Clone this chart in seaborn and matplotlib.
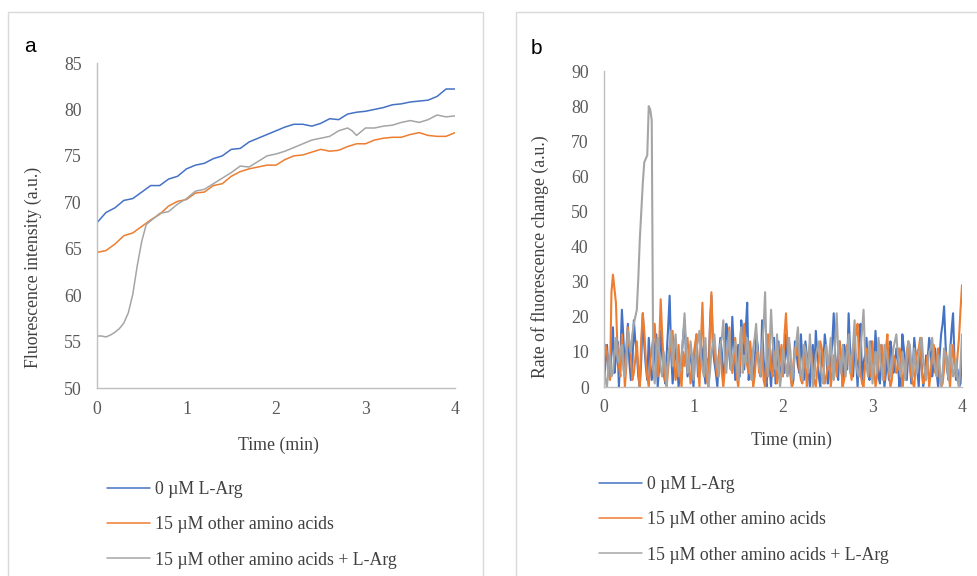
import matplotlib
matplotlib.use("Agg")
import matplotlib.pyplot as plt
import matplotlib.patches as mpatches
import seaborn as sns
import pandas as pd

# ---------------- data ----------------
labels = ["0 \u00b5M L-Arg", "15 \u00b5M other amino acids", "15 \u00b5M other amino acids + L-Arg"]
colors = ["#4472C4", "#ED7D31", "#A5A5A5"]

# panel a: fluorescence intensity
time_a = [round(0.1 * i, 1) for i in range(41)]
blue_a = [67.8, 68.9, 69.4, 70.2, 70.4, 71.1, 71.8, 71.8, 72.5, 72.8, 73.6, 74.0, 74.2, 74.7,
          75.0, 75.7, 75.8, 76.5, 76.9, 77.3, 77.7, 78.1, 78.4, 78.4, 78.2, 78.5, 79.0, 78.9,
          79.5, 79.7, 79.8, 80.0, 80.2, 80.5, 80.6, 80.8, 80.9, 81.0, 81.4, 82.2, 82.2]
orange_a = [64.6, 64.8, 65.5, 66.4, 66.7, 67.4, 68.1, 68.7, 69.6, 70.1, 70.3, 71.0, 71.1, 71.8,
            72.0, 72.8, 73.3, 73.6, 73.8, 74.0, 74.0, 74.6, 75.0, 75.1, 75.4, 75.7, 75.5, 75.6,
            76.0, 76.3, 76.3, 76.7, 76.9, 77.0, 77.0, 77.3, 77.5, 77.2, 77.1, 77.1, 77.5]
time_gray_a = [0, 0.05, 0.1, 0.15, 0.2, 0.25, 0.3, 0.35, 0.4, 0.45, 0.5, 0.55, 0.6,
               0.7, 0.8, 0.9, 1.0, 1.1, 1.2, 1.3, 1.4, 1.5, 1.6, 1.7, 1.8, 1.9, 2.0, 2.1,
               2.2, 2.3, 2.4, 2.5, 2.6, 2.7, 2.8, 2.85, 2.9, 3.0, 3.1, 3.2, 3.3, 3.4, 3.5,
               3.6, 3.7, 3.8, 3.9, 4.0]
gray_a = [55.6, 55.6, 55.5, 55.7, 56.0, 56.4, 57.0, 58.1, 60.1, 63.2, 65.8, 67.6, 68.0,
          68.8, 69.0, 69.8, 70.4, 71.2, 71.4, 72.0, 72.6, 73.2, 73.9, 73.8, 74.4, 75.0, 75.2,
          75.5, 75.9, 76.3, 76.7, 76.9, 77.1, 77.7, 78.0, 77.7, 77.2, 78.0, 78.0, 78.2, 78.3,
          78.6, 78.8, 78.6, 78.9, 79.4, 79.2, 79.3]

# panel b: rate of fluorescence change (sampled every 1 s)
time_b = [i / 60 for i in range(241)]
blue_b = [0, 7, 12, 5, 3, 10, 17, 4, 8, 13, 0, 9, 22, 14, 5, 11, 18, 7, 2, 6,
          19, 13, 10, 3, 0, 8, 21, 12, 6, 2, 14, 7, 2, 5, 11, 15, 0, 6, 16, 9,
          4, 1, 9, 17, 26, 10, 1, 5, 13, 7, 0, 4, 8, 14, 19, 9, 3, 6, 12, 5, 0,
          9, 15, 3, 6, 12, 10, 5, 1, 8, 4, 17, 26, 11, 7, 4, 0, 9, 14, 10, 3,
          6, 18, 14, 9, 5, 20, 11, 2, 7, 12, 3, 19, 13, 5, 16, 24, 2, 8, 10, 1,
          6, 15, 12, 6, 3, 19, 8, 3, 0, 11, 6, 0, 10, 14, 1, 7, 13, 2, 5, 10,
          4, 15, 9, 4, 6, 0, 2, 13, 10, 6, 4, 15, 8, 2, 13, 9, 5, 0, 7, 12,
          3, 16, 9, 3, 0, 10, 6, 15, 11, 1, 4, 8, 12, 21, 9, 5, 2, 13, 7, 0,
          12, 9, 5, 21, 10, 4, 3, 11, 8, 0, 12, 18, 2, 7, 9, 14, 4, 2, 13, 10,
          5, 16, 9, 3, 1, 12, 7, 0, 4, 9, 2, 13, 10, 4, 6, 11, 8, 0, 3, 15,
          11, 6, 2, 10, 7, 1, 5, 14, 9, 5, 0, 12, 6, 0, 3, 9, 8, 14, 11, 3,
          6, 11, 4, 0, 9, 15, 18, 23, 12, 5, 2, 10, 16, 21, 7, 2, 5, 0, 1, 10]
orange_b = [8, 12, 10, 4, 2, 27, 32, 28, 24, 11, 6, 3, 15, 9, 0, 6, 17, 12, 9, 2,
            4, 8, 13, 5, 0, 14, 21, 16, 8, 3, 0, 7, 11, 14, 18, 9, 3, 12, 25, 15,
            7, 2, 0, 5, 10, 13, 16, 8, 2, 6, 12, 4, 0, 10, 6, 11, 14, 7, 1, 4, 9,
            12, 15, 6, 0, 13, 24, 9, 5, 2, 0, 16, 27, 14, 10, 6, 3, 9, 12, 4, 0,
            5, 8, 11, 17, 9, 4, 7, 14, 3, 0, 6, 11, 13, 18, 10, 6, 4, 13, 8, 0,
            3, 9, 10, 4, 6, 12, 2, 0, 9, 15, 11, 5, 3, 10, 7, 1, 4, 8, 12, 3,
            15, 21, 12, 6, 3, 0, 7, 11, 9, 14, 5, 2, 1, 9, 6, 0, 8, 12, 10, 4,
            2, 0, 5, 8, 13, 11, 6, 1, 3, 6, 9, 0, 4, 9, 7, 3, 10, 13, 6, 0,
            2, 7, 12, 10, 5, 2, 9, 14, 15, 18, 8, 4, 1, 0, 6, 11, 9, 5, 3, 13,
            6, 0, 3, 8, 10, 12, 7, 2, 11, 15, 4, 0, 2, 9, 8, 4, 5, 11, 9, 0,
            3, 7, 10, 13, 6, 3, 1, 0, 7, 10, 11, 14, 5, 1, 2, 6, 9, 0, 4, 9,
            12, 4, 7, 11, 3, 0, 1, 5, 10, 8, 4, 0, 8, 12, 6, 3, 9, 14, 22, 29]
gray_b = [5, 2, 0, 6, 9, 3, 4, 10, 14, 8, 7, 11, 12, 5, 3, 9, 16, 13, 10, 15,
          18, 20, 22, 31, 42, 50, 58, 64, 65, 66, 80, 79, 76, 5, 1, 8, 14, 10, 5, 3,
          10, 7, 0, 9, 12, 16, 6, 11, 15, 8, 3, 5, 9, 14, 21, 12, 4, 7, 13, 9, 2,
          7, 11, 13, 16, 9, 5, 3, 14, 6, 0, 4, 10, 12, 15, 9, 6, 3, 12, 14, 19,
          8, 4, 11, 16, 5, 8, 10, 13, 6, 2, 12, 17, 4, 9, 7, 14, 10, 4, 2, 11,
          14, 18, 9, 6, 3, 12, 17, 27, 8, 3, 11, 22, 13, 8, 5, 15, 7, 0, 4, 11,
          8, 6, 3, 14, 10, 2, 5, 10, 13, 17, 9, 4, 2, 12, 11, 7, 4, 15, 8, 0,
          5, 9, 11, 13, 7, 3, 1, 10, 12, 6, 9, 14, 5, 2, 13, 21, 10, 8, 4, 12,
          7, 3, 10, 15, 4, 9, 12, 19, 7, 4, 3, 11, 16, 22, 10, 6, 3, 13, 8, 1,
          6, 10, 4, 14, 9, 5, 2, 12, 10, 8, 5, 3, 7, 11, 13, 15, 9, 6, 3, 10,
          7, 2, 8, 13, 12, 7, 3, 11, 6, 4, 9, 12, 14, 8, 5, 2, 6, 10, 11, 14,
          8, 5, 3, 9, 6, 0, 4, 11, 9, 6, 2, 12, 7, 3, 5, 8, 2, 0, 6, 15]

xticks = [0, 1, 2, 3, 4]
yticks_a = [50, 55, 60, 65, 70, 75, 80, 85]
yticks_b = [0, 10, 20, 30, 40, 50, 60, 70, 80, 90]

# ---------------- style ----------------
sns.set_theme(style="white")
plt.rcParams["font.family"] = ["Liberation Serif", "DejaVu Serif"]
TICK_C = "#595959"
LAB_C = "#404040"
FS = 12.8

W, H = 978, 576
fig = plt.figure(figsize=(W / 100, H / 100), dpi=100)

def fx(px):
    return px / W

def fy(py):
    return 1 - py / H

# panel frames
for x0, x1 in [(8, 483), (516, 990)]:
    fig.patches.append(mpatches.Rectangle((fx(x0), fy(600)), fx(x1) - fx(x0), fy(12) - fy(600),
                                          transform=fig.transFigure, fill=False,
                                          edgecolor="#D9D9D9", linewidth=1.0))

ax_a = fig.add_axes([fx(97), fy(388), fx(455) - fx(97), fy(63) - fy(388)])
ax_b = fig.add_axes([fx(604), fy(387), fx(962) - fx(604), fy(71) - fy(387)])

df_a = [(time_a, blue_a), (time_a, orange_a), (time_gray_a, gray_a)]
df_b = [(time_b, blue_b), (time_b, orange_b), (time_b, gray_b)]

for (t, v), c, lab in zip(df_a, colors, labels):
    d = pd.DataFrame({"t": t, "v": v})
    sns.lineplot(data=d, x="t", y="v", ax=ax_a, color=c, linewidth=1.1, label=lab,
                 estimator=None, sort=False)
for (t, v), c, lab in zip(df_b, colors, labels):
    d = pd.DataFrame({"t": t, "v": v})
    sns.lineplot(data=d, x="t", y="v", ax=ax_b, color=c, linewidth=1.5, label=lab,
                 estimator=None, sort=False)

for ax, yt, ylim in [(ax_a, yticks_a, (50, 85)), (ax_b, yticks_b, (0, 90))]:
    ax.set_xlim(0, 4)
    ax.set_ylim(*ylim)
    ax.set_xticks(xticks)
    ax.set_yticks(yt)
    ax.set_xlabel("")
    ax.set_ylabel("")
    for s in ["top", "right"]:
        ax.spines[s].set_visible(False)
    for s in ["left", "bottom"]:
        ax.spines[s].set_color("#BFBFBF")
        ax.spines[s].set_linewidth(1.0)
    ax.tick_params(axis="both", length=0, labelsize=FS, colors=TICK_C)
    ax.tick_params(axis="y", pad=11)
    ax.tick_params(axis="x", pad=9)
    ax.set_facecolor("none")
    ax.get_legend().remove()

# axis titles
fig.text(fx(278), fy(445), "Time (min)", ha="center", va="center", fontsize=FS, color=LAB_C)
fig.text(fx(791), fy(440), "Time (min)", ha="center", va="center", fontsize=FS, color=LAB_C)
fig.text(fx(33), fy(267), "Fluorescence intensity (a.u.)", rotation=90, ha="center", va="center",
         fontsize=FS, color=LAB_C)
fig.text(fx(540), fy(257), "Rate of fluorescence change (a.u.)", rotation=90, ha="center", va="center",
         fontsize=FS, color=LAB_C)

# panel letters
fig.text(fx(24), fy(46), "a", ha="left", va="center", fontsize=15, color="black",
         family=["Liberation Sans", "DejaVu Sans"])
fig.text(fx(531), fy(49), "b", ha="left", va="center", fontsize=15, color="black",
         family=["Liberation Sans", "DejaVu Sans"])

# legends
for ax, x0, y0 in [(ax_a, 107, 481), (ax_b, 599, 476)]:
    handles, labs = ax.get_legend_handles_labels()
    leg = fig.legend(handles, labs, loc="upper left", bbox_to_anchor=(fx(x0), fy(y0)),
                     bbox_transform=fig.transFigure, frameon=False, fontsize=FS,
                     handlelength=2.4, handletextpad=0.3, labelspacing=1.03,
                     borderpad=0, borderaxespad=0)
    for txt in leg.get_texts():
        txt.set_color(LAB_C)
    for ln in leg.get_lines():
        ln.set_linewidth(1.1)

fig.savefig("out.png", dpi=100, facecolor="white")
